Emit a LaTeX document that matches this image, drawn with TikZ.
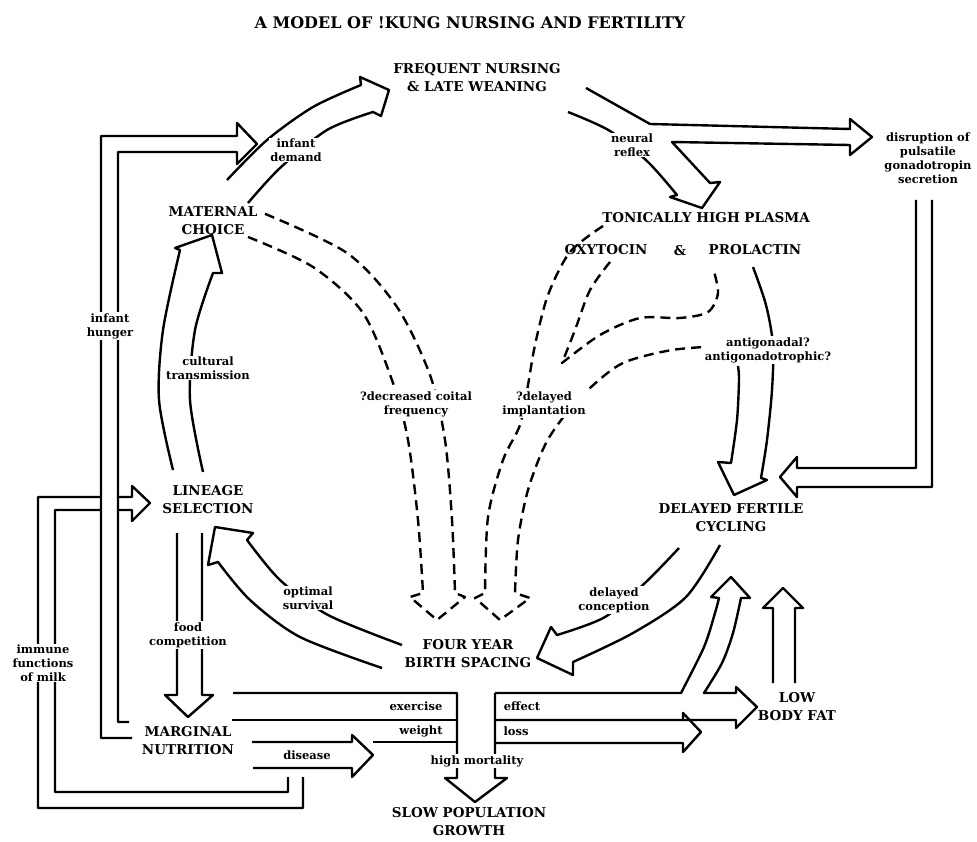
\documentclass[tikz,border=0pt]{standalone}
\usepackage{fontspec}
\setmainfont{DejaVu Serif}
\newcommand{\capfont}{\fontsize{13.5}{18}\selectfont\bfseries}
\newcommand{\lblfont}{\fontsize{11.5}{14}\selectfont\bfseries}
\newcommand{\ttlfont}{\fontsize{16}{18}\selectfont\bfseries}

\tikzset{
  edge/.style={line width=2.4pt, line join=round},
  dashedge/.style={edge, dash pattern=on 10pt off 6pt},
  caps/.style={font=\capfont, align=center, inner sep=1pt},
  lbl/.style={font=\lblfont, align=center, inner sep=1pt, fill=white},
  boxlbl/.style={font=\lblfont, inner sep=1pt},
}

\begin{document}
\begin{tikzpicture}[x=1pt,y=-1pt]
	\useasboundingbox (0,0) rectangle (977,842);

	% Titel
	\node[font=\ttlfont] (title) at (470,23) {A MODEL OF !KUNG NURSING AND FERTILITY};

	% Immune-Schleife (unter infant hunger)
	\draw[edge] (303,777) -- (303,808) -- (38,808) -- (38,497) -- (132,497) -- (132,486) -- (150,503)
		-- (132,521) -- (132,510) -- (55,510) -- (55,792) -- (288,792) -- (288,777);

	% infant hunger
	\filldraw[edge, fill=white] (132,738) -- (101,738) -- (101,136) -- (237,136) -- (237,123) -- (257,144)
		-- (237,164) -- (237,152) -- (118,152) -- (118,722) -- (129,722);

	% infant demand
	\draw[edge] plot[smooth] coordinates {(227,180) (267,140) (313,107) (361,85)}
		-- (360,77) -- (389,90) -- (381,116) -- (373,112)
		-- plot[smooth] coordinates {(373,112) (327,130) (280,168) (248,203)};

	% neural reflex / Verzweigung
	\draw[edge] (586,88) -- (650,124) -- (850,129) -- (850,119) -- (872,137) -- (850,155) -- (850,145)
		-- (672,142) -- (710,183) -- (720,182) -- (702,208) -- (670,197) -- (677,195)
		-- plot[smooth] coordinates {(677,195) (648,162) (610,131) (568,112)};

	% Sekretion nach unten
	\draw[edge] (916,200) -- (916,468) -- (797,468) -- (797,457) -- (780,477) -- (797,497) -- (797,487)
		-- (932,487) -- (932,200);

	% antigonadal
	\draw[edge] plot[smooth] coordinates {(753,267) (766,305) (773,345) (772,390) (767,440) (761,478)}
		-- (767,480) -- (734,495) -- (718,462) -- (731,463)
		-- plot[smooth] coordinates {(731,463) (737,420) (739,380) (738,366)};

	% ?decreased coital frequency
	\draw[dashedge] plot[smooth] coordinates {(248,237) (313,267) (363,313) (393,383) (408,440) (418,520) (423,593)}
		-- (410,597) -- (437,620) -- (465,597) -- (455,593)
		-- plot[smooth] coordinates {(455,593) (452,520) (445,440) (430,375) (397,307) (347,253) (263,213)};

	% ?delayed implantation
	\draw[dashedge] plot[smooth] coordinates {(603,226) (570,252) (548,295) (535,345) (528,385) (520,425) (503,460) (488,517) (485,593)}
		-- (475,598) -- (500,620) -- (530,598) -- (515,593)
		-- plot[smooth] coordinates {(515,593) (518,540) (528,490) (545,445) (565,415) (590,388) (623,363) (672,350) (722,346)};
	\draw[dashedge] plot[smooth] coordinates {(610,262) (590,290) (575,330) (562,363)}
		-- plot[smooth] coordinates {(562,363) (600,335) (640,318) (680,318) (708,312) (718,293) (713,268)};

	% optimal survival
	\draw[edge] plot[smooth] coordinates {(402,645) (328,615) (280,580) (247,540)}
		-- (253,533) -- (215,527) -- (208,565) -- (218,562)
		-- plot[smooth] coordinates {(218,562) (250,600) (300,637) (382,668)};

	% delayed conception
	\draw[edge] plot[smooth] coordinates {(679,548) (646,582) (605,617) (557,635)}
		-- (551,627) -- (537,658) -- (573,675) -- (573,662)
		-- plot[smooth] coordinates {(573,662) (633,633) (686,597) (720,545)};

	% cultural transmission
	\draw[edge] plot[smooth] coordinates {(173,470) (159,400) (163,330) (180,250)}
		-- (175,248) -- (212,235) -- (222,273) -- (213,273)
		-- plot[smooth] coordinates {(213,273) (195,330) (190,400) (203,472)};

	% food competition
	\draw[edge] (177,533) -- (177,695) -- (165,695) -- (188,717) -- (213,695) -- (202,695) -- (202,533);

	% exercise / weight
	\draw[edge] (233,693) -- (457,693) -- (457,778) -- (445,778) -- (475,802) -- (507,778) -- (495,778) -- (495,693);
	\draw[edge] (232,720) -- (457,720);
	\draw[edge] (373,742) -- (457,742);

	% disease
	\draw[edge] (252,742) -- (352,742) -- (352,735) -- (373,755) -- (352,777) -- (352,768) -- (253,768);

	% effect / loss
	\draw[edge] (495,693) -- (681,693)
		-- plot[smooth] coordinates {(681,693) (704,647) (715,613) (719,598)}
		-- (711,597) -- (731,577) -- (750,598) -- (741,598)
		-- plot[smooth] coordinates {(741,598) (733,633) (722,663) (704,693)}
		-- (736,693) -- (736,687) -- (757,707) -- (736,728) -- (736,720) -- (495,720);
	\draw[edge] (683,720) -- (683,713) -- (701,732) -- (683,752) -- (683,743) -- (495,743);

	% low body fat
	\draw[edge] (773,683) -- (773,608) -- (763,608) -- (783,588) -- (803,608) -- (795,608) -- (795,683);

	% Knoten
	\node[caps] (nursing) at (477,78) {FREQUENT NURSING\\\& LATE WEANING};
	\node[caps] (maternal) at (213,221) {MATERNAL\\CHOICE};
	\node[caps] (plasma) at (706,218) {TONICALLY HIGH PLASMA};
	\node[caps] (oxytocin) at (606,250) {OXYTOCIN};
	\node[caps] (amp) at (680,251) {\&};
	\node[caps] (prolactin) at (755,250) {PROLACTIN};
	\node[caps] (lineage) at (208,500) {LINEAGE\\SELECTION};
	\node[caps] (fertile) at (731,518) {DELAYED FERTILE\\CYCLING};
	\node[caps] (spacing) at (468,654) {FOUR YEAR\\BIRTH SPACING};
	\node[caps] (marginal) at (188,741) {MARGINAL\\NUTRITION};
	\node[caps] (bodyfat) at (797,707) {LOW\\BODY FAT};
	\node[caps] (growth) at (469,822) {SLOW POPULATION\\GROWTH};

	% Beschriftungen
	\node[lbl] (demand) at (296,150) {infant\\demand};
	\node[lbl] (neural) at (632,145) {neural\\reflex};
	\node[lbl] (disruption) at (928,158) {disruption of\\pulsatile\\gonadotropin\\secretion};
	\node[lbl] (antigon) at (768,350) {antigonadal?\\antigonadotrophic?};
	\node[lbl] (coital) at (416,404) {?decreased coital\\frequency};
	\node[lbl] (implant) at (544,404) {?delayed\\implantation};
	\node[lbl] (cultural) at (208,368) {cultural\\transmission};
	\node[lbl] (hunger) at (110,326) {infant\\hunger};
	\node[lbl] (conception) at (614,600) {delayed\\conception};
	\node[lbl] (survival) at (308,598) {optimal\\survival};
	\node[lbl] (food) at (188,635) {food\\competition};
	\node[lbl] (immune) at (43,663) {immune\\functions\\of milk};
	\node[boxlbl] (exercise) at (416,706) {exercise};
	\node[boxlbl] (weight) at (421,731) {weight};
	\node[boxlbl] (effect) at (522,706) {effect};
	\node[boxlbl] (loss) at (516,731) {loss};
	\node[boxlbl] (disease) at (307,755) {disease};
	\node[lbl] (mortality) at (477,761) {high mortality};
\end{tikzpicture}
\end{document}
